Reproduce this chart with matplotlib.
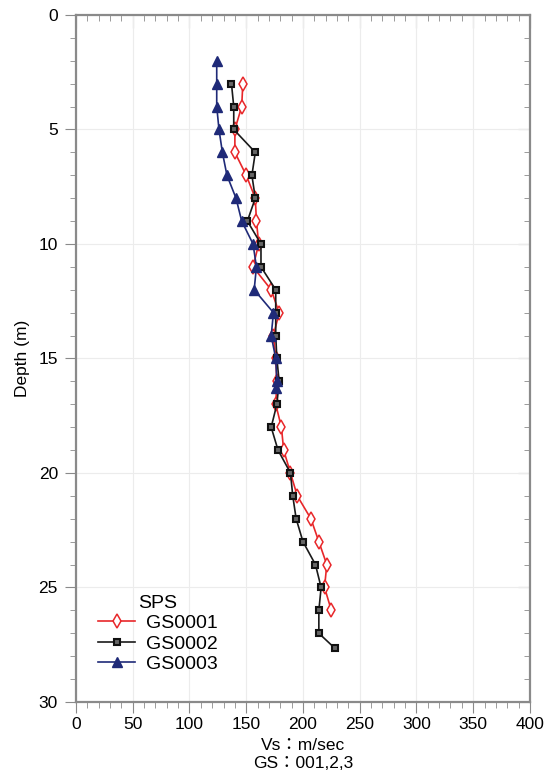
#!/usr/bin/env python
import matplotlib
matplotlib.use('Agg')
import matplotlib.pyplot as plt
from matplotlib.ticker import MultipleLocator

plt.rcParams['font.family'] = ['Liberation Sans', 'Noto Sans CJK JP', 'DejaVu Sans']

# shear-wave velocity profiles (m/sec) against depth (m)
depth_1 = [3, 4, 5, 6, 7, 8, 9, 10, 11, 12, 13, 14, 15, 16, 17, 18, 19, 20,
           21, 22, 23, 24, 25, 26]
vs_1 = [147, 146, 140, 140, 150, 158, 159, 161, 156, 172, 179, 174, 176,
        177, 176, 181, 183, 189, 195, 207, 214, 221, 219, 225]

depth_2 = [3, 4, 5, 6, 7, 8, 9, 10, 11, 12, 13, 14, 15, 16, 17, 18, 19, 20,
           21, 22, 23, 24, 25, 26, 27, 27.65]
vs_2 = [137, 139, 139, 158, 155, 158, 151, 163, 163, 176, 176, 176, 177,
        179, 177, 172, 178, 189, 191, 194, 200, 211, 216, 214, 214, 228]

depth_3 = [2, 3, 4, 5, 6, 7, 8, 9, 10, 11, 12, 13, 14, 15, 16, 16.3]
vs_3 = [124, 124, 124, 126, 129, 133, 141, 146, 156, 159, 157, 174, 172,
        176, 177, 176]

names = ['GS0001', 'GS0002', 'GS0003']

red = '#e8272a'
navy = '#1f2a78'
spine_c = '#8a8a8a'

fig = plt.figure(figsize=(5.52, 7.76), dpi=100)
ax = fig.add_axes([0.1377, 0.0954, 0.8223, 0.8853])

ax.plot(vs_1, depth_1, '-', color=red, lw=1.2, marker='d', ms=7.5,
        mfc='white', mec=red, mew=1.1, label=names[0], zorder=3)
ax.plot(vs_2, depth_2, '-', color='#1a1a1a', lw=1.2, marker='s', ms=4.5,
        mfc='#666666', mec='#111111', mew=1.5, label=names[1], zorder=4)
ax.plot(vs_3, depth_3, '-', color=navy, lw=1.2, marker='^', ms=7,
        mfc=navy, mec=navy, label=names[2], zorder=5)

ax.set_xlim(0, 400)
ax.set_ylim(30, 0)
ax.xaxis.set_major_locator(MultipleLocator(50))
ax.xaxis.set_minor_locator(MultipleLocator(10))
ax.yaxis.set_major_locator(MultipleLocator(5))
ax.yaxis.set_minor_locator(MultipleLocator(1))
ax.grid(True, which='major', color='#ececec', lw=0.8, zorder=0)

for s in ax.spines.values():
    s.set_color(spine_c)
    s.set_linewidth(1.6)
ax.tick_params(which='both', direction='out', colors=spine_c,
               labelcolor='black', labelsize=12.5)
ax.tick_params(which='major', length=8, width=0.8)
ax.tick_params(which='minor', length=4, width=0.6)
ax.tick_params(axis='x', pad=3)
ax.tick_params(axis='y', pad=5)

# top and right sides carry inward ticks only
top = ax.secondary_xaxis('top')
right = ax.secondary_yaxis('right')
for sec in (top, right):
    sec.tick_params(which='both', direction='in', colors=spine_c,
                    labelleft=False, labelright=False,
                    labeltop=False, labelbottom=False)
    sec.tick_params(which='major', length=9, width=0.8)
    sec.tick_params(which='minor', length=4, width=0.6)
    for s in sec.spines.values():
        s.set_visible(False)
top.xaxis.set_major_locator(MultipleLocator(50))
top.xaxis.set_minor_locator(MultipleLocator(10))
right.yaxis.set_major_locator(MultipleLocator(5))
right.yaxis.set_minor_locator(MultipleLocator(1))

ax.set_xlabel('Vs：m/sec\nGS：001,2,3', fontsize=12.5, labelpad=4,
              linespacing=1.3)
ax.set_ylabel('Depth (m)', fontsize=12.5, labelpad=6)

leg = ax.legend(title='SPS', loc='lower left', bbox_to_anchor=(0.019, 0.022),
                frameon=False, fontsize=14, title_fontsize=14,
                handlelength=1.9, handletextpad=0.55, labelspacing=0.15,
                borderpad=0.2)

fig.savefig('out.png', dpi=100)
